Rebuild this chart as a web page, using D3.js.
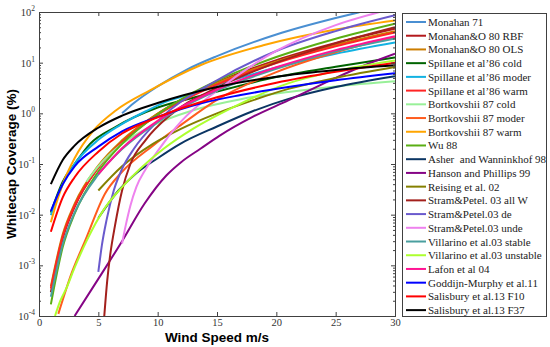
<!DOCTYPE html>
<html>
<head>
<meta charset="utf-8">
<script src="https://cdn.jsdelivr.net/npm/d3@7/dist/d3.min.js"></script>
<style>
body { margin: 0; background: #fff; }
</style>
</head>
<body>
<div id="canvas"></div>
<script>
// wind speed (m/s) vs whitecap coverage (%)
let monahan71 = [[7, 1.0], [8, 1.6], [10, 3.4], [12.5, 7.4], [15, 13.5], [20, 36], [25, 76], [27, 99]];
let monahanRBF = [[1, 2.95e-4], [2, 3.4e-3], [3, 0.0141], [5, 0.085], [7, 0.278], [10, 0.98], [15, 4.07], [20, 11.2], [25, 24.5], [30, 46.7]];
let monahanOLS = [[1, 3.84e-4], [2, 4.1e-3], [3, 0.0163], [5, 0.093], [7, 0.293], [10, 0.99], [15, 3.94], [20, 10.5], [25, 22.5], [30, 41.8]];
let spillaneCold = [[1, 0.011], [2, 0.045], [3, 0.1], [4.3, 0.25], [6.4, 0.53], [10, 1.3], [13.6, 2.2], [20, 5.2], [25, 8.3], [30, 12.7]];
let spillaneModer = [[1, 0.0098], [2, 0.04], [3, 0.1], [5, 0.3], [6.8, 0.58], [9, 1.1], [11, 1.8], [12.4, 2.26], [15, 3.6], [20, 8], [25, 15], [30, 25]];
let spillaneWarm = [[1, 3.5e-4], [2, 3.7e-3], [3, 0.015], [5, 0.085], [7, 0.27], [10, 0.93], [15, 3.7], [20, 9.8], [25, 21], [30, 39.5]];
let bortCold = [[4, 0.045], [5, 0.09], [7, 0.25], [9.35, 0.54], [13, 1.15], [17, 1.9], [21, 2.63], [25, 3.4], [30, 4.3]];
let bortModer = [[1.63, 1.1e-4], [2.75, 7e-4], [3.9, 3.1e-3], [5.56, 0.026], [7, 0.07], [9.6, 0.23], [12, 0.6], [15.2, 1.97], [20, 6.5], [25, 16], [30, 32]];
let bortWarm = [[1, 0.0071], [1.5, 0.018], [2, 0.04], [3, 0.13], [4.6, 0.46], [6.5, 1.15], [9.35, 2.84], [13.6, 8.9], [18.9, 22], [25, 45], [30, 68]];
let wu88 = [[1, 1.7e-4], [2, 2.29e-3], [3, 0.0105], [5, 0.071], [7, 0.25], [10, 0.956], [15, 4.38], [20, 12.9], [25, 29.7], [30, 58.8]];
let asher98 = [[5, 0.0086], [6.7, 0.03], [8, 0.06], [10, 0.13], [11.9, 0.25], [15, 0.55], [18, 1.1], [21.1, 1.95], [25, 3.3], [30, 5.4]];
let hanson99 = [[3, 1e-4], [5, 5.4e-4], [7, 3e-3], [8.9, 0.0166], [10.75, 0.06], [12, 0.11], [13.6, 0.2], [15.2, 0.36], [18, 0.85], [21, 1.8], [23, 3.0], [25, 5.0], [27.5, 9], [30, 15]];
let reising02 = [[5, 0.03], [7, 0.09], [9.6, 0.25], [12, 0.5], [15, 1.0], [18, 1.8], [21.1, 3.07], [25, 5.0], [30, 8.2]];
let stramAll = [[5.5, 1e-4], [5.75, 5e-4], [6, 1.6e-3], [6.4, 6e-3], [7, 0.03], [7.7, 0.1], [9, 0.3], [11, 0.9], [15, 3.2], [20, 10], [25, 24], [30, 50]];
let stramDe = [[5, 7.4e-4], [5.3, 2.5e-3], [5.7, 0.008], [6.3, 0.03], [7, 0.08], [8, 0.2], [10, 0.7], [15, 4.5], [20, 17], [25, 42], [30, 86]];
let stramUnde = [[7, 2.7e-3], [7.3, 0.006], [7.7, 0.015], [8.2, 0.035], [9, 0.08], [10, 0.18], [12, 0.7], [15, 2.8], [20, 17], [25, 55], [28.7, 100]];
let villStable = [[1, 2.4e-4], [2, 2.6e-3], [3, 0.011], [5, 0.062], [7, 0.197], [10, 0.67], [15, 2.8], [20, 7.6], [25, 16.7], [30, 30]];
let villUnstable = [[1.35, 1e-4], [1.8, 2e-4], [2.3, 3.5e-4], [3, 9e-4], [4, 3e-3], [5.5, 0.013], [7, 0.035], [8.5, 0.08], [10.5, 0.2], [13, 0.5], [16, 1.2], [21, 3.9], [25, 6.8], [30, 11]];
let lafon04 = [[5, 0.063], [7, 0.205], [10, 0.71], [15, 2.95], [20, 8.1], [25, 17.7], [30, 33.4]];
let goddijn11 = [[1, 0.0118], [2, 0.04], [3, 0.09], [5, 0.22], [7, 0.44], [10, 0.85], [13.6, 1.57], [17, 2.3], [21, 3.3], [25, 4.5], [30, 6.2]];
let salisF10 = [[1, 0.0046], [2, 0.0219], [3, 0.0548], [5, 0.175], [7, 0.4], [10, 0.837], [15, 2.07], [20, 4.0], [25, 6.6], [30, 10.0]];
let salisF37 = [[1, 0.04], [2, 0.12], [3, 0.23], [5, 0.52], [7, 0.9], [10, 1.6], [15, 3.3], [20, 5.3], [25, 7.2], [30, 8.9]];

let names = ["Monahan 71", "Monahan&O 80 RBF", "Monahan&O 80 OLS", "Spillane et al\u201986 cold",
    "Spillane et al\u201986 moder", "Spillane et al\u201986 warm", "Bortkovshii 87 cold", "Bortkovshii 87 moder",
    "Bortkovshii 87 warm", "Wu 88", "Asher  and Wanninkhof 98", "Hanson and Phillips 99", "Reising et al. 02",
    "Stram&Petel. 03 all W", "Stram&Petel.03 de", "Stram&Petel.03 unde", "Villarino et al.03 stable",
    "Villarino et al.03 unstable", "Lafon et al 04", "Goddijn-Murphy et al.11", "Salisbury et al.13 F10",
    "Salisbury et al.13 F37"];
let colors = ["#4a8fd2", "#b3191c", "#cc7d00", "#006400", "#12b2e2", "#ff2424", "#98f098", "#ff5c1e",
    "#ffa500", "#5aae14", "#0b3563", "#850485", "#858000", "#a3201c", "#6a5acd", "#ee82ee",
    "#4a9f9f", "#adff2f", "#ff1493", "#0000ff", "#ff0000", "#000000"];
let xTicks = [0, 5, 10, 15, 20, 25, 30];
let yExps = [-4, -3, -2, -1, 0, 1, 2];

let series = [monahan71, monahanRBF, monahanOLS, spillaneCold, spillaneModer, spillaneWarm, bortCold,
    bortModer, bortWarm, wu88, asher98, hanson99, reising02, stramAll, stramDe, stramUnde, villStable,
    villUnstable, lafon04, goddijn11, salisF10, salisF37];

let width = 550;
let height = 347;
let pLeft = 39, pRight = 395, pTop = 12, pBottom = 316;
let serif = "'Liberation Serif', 'Times New Roman', Times, serif";
let sans = "'Liberation Sans', Arial, Helvetica, sans-serif";

var svg = d3.select("#canvas").append("svg")
    .attr("width", width)
    .attr("height", height);

var xScale = d3.scaleLinear().domain([0, 30]).range([pLeft, pRight]);
var yScale = d3.scaleLog().domain([1e-4, 1e2]).range([pBottom, pTop]);

svg.append("clipPath").attr("id", "clip")
    .append("rect")
    .attr("x", pLeft).attr("y", pTop)
    .attr("width", pRight - pLeft).attr("height", pBottom - pTop);

// curves
var line = d3.line()
    .x(d => xScale(d[0]))
    .y(d => yScale(d[1]))
    .curve(d3.curveMonotoneX);

var g = svg.append("g").attr("clip-path", "url(#clip)");
series.forEach((s, i) => {
    g.append("path")
        .attr("d", line(s))
        .attr("fill", "none")
        .attr("stroke", colors[i])
        .attr("stroke-width", 2);
});

// axes: ticks point inward on all four sides
var axisColor = "#404040";
var minor = [];
for (let e = -4; e < 2; e++) {
    for (let k = 2; k <= 9; k++) minor.push(k * Math.pow(10, e));
}

svg.append("g")
    .attr("transform", `translate(0,${pBottom})`)
    .call(d3.axisBottom(xScale).tickValues(xTicks).tickSize(-4).tickPadding(3).tickFormat(d3.format("d")));
svg.append("g")
    .attr("transform", `translate(0,${pTop})`)
    .call(d3.axisTop(xScale).tickValues(xTicks).tickSize(-4).tickFormat(""));
svg.append("g")
    .attr("transform", `translate(${pLeft},0)`)
    .call(d3.axisLeft(yScale).tickValues(yExps.map(e => Math.pow(10, e))).tickSize(-4).tickFormat(""));
svg.append("g")
    .attr("transform", `translate(${pRight},0)`)
    .call(d3.axisRight(yScale).tickValues(yExps.map(e => Math.pow(10, e))).tickSize(-4).tickFormat(""));
svg.append("g")
    .attr("transform", `translate(${pLeft},0)`)
    .call(d3.axisLeft(yScale).tickValues(minor).tickSize(-2).tickFormat(""));
svg.append("g")
    .attr("transform", `translate(${pRight},0)`)
    .call(d3.axisRight(yScale).tickValues(minor).tickSize(-2).tickFormat(""));

svg.selectAll(".domain").attr("stroke", axisColor);
svg.selectAll(".tick line").attr("stroke", axisColor);
svg.selectAll(".tick text")
    .style("font-family", serif)
    .style("font-size", "10.5px")
    .attr("fill", "#333");

// y labels as 10 with superscript exponent
yExps.forEach(e => {
    var t = svg.append("text")
        .attr("x", pLeft - 4)
        .attr("y", yScale(Math.pow(10, e)) + 4)
        .attr("text-anchor", "end")
        .style("font-family", serif)
        .style("font-size", "10.5px")
        .attr("fill", "#333");
    t.append("tspan").text("10");
    t.append("tspan").attr("dy", -5).style("font-size", "7.5px").text(e);
});

// axis titles
svg.append("text")
    .attr("x", (pLeft + pRight) / 2)
    .attr("y", 342)
    .attr("text-anchor", "middle")
    .style("font-family", sans)
    .style("font-weight", "bold")
    .style("font-size", "13.5px")
    .text("Wind Speed m/s");
svg.append("text")
    .attr("transform", `translate(16,${(pTop + pBottom) / 2}) rotate(-90)`)
    .attr("text-anchor", "middle")
    .style("font-family", sans)
    .style("font-weight", "bold")
    .style("font-size", "13.5px")
    .text("Whitecap Coverage (%)");

// legend
var legend = svg.append("g");
legend.append("rect")
    .attr("x", 402.5).attr("y", 13.5)
    .attr("width", 144).attr("height", 303)
    .attr("fill", "#fff")
    .attr("stroke", axisColor);
names.forEach((n, i) => {
    let yy = 22 + i * 13.72;
    legend.append("line")
        .attr("x1", 406).attr("x2", 426)
        .attr("y1", yy).attr("y2", yy)
        .attr("stroke", colors[i])
        .attr("stroke-width", 2);
    legend.append("text")
        .attr("x", 428)
        .attr("y", yy + 4)
        .style("font-family", serif)
        .style("font-size", "11px")
        .style("white-space", "pre")
        .attr("fill", "#222")
        .text(n);
});
</script>
</body>
</html>
